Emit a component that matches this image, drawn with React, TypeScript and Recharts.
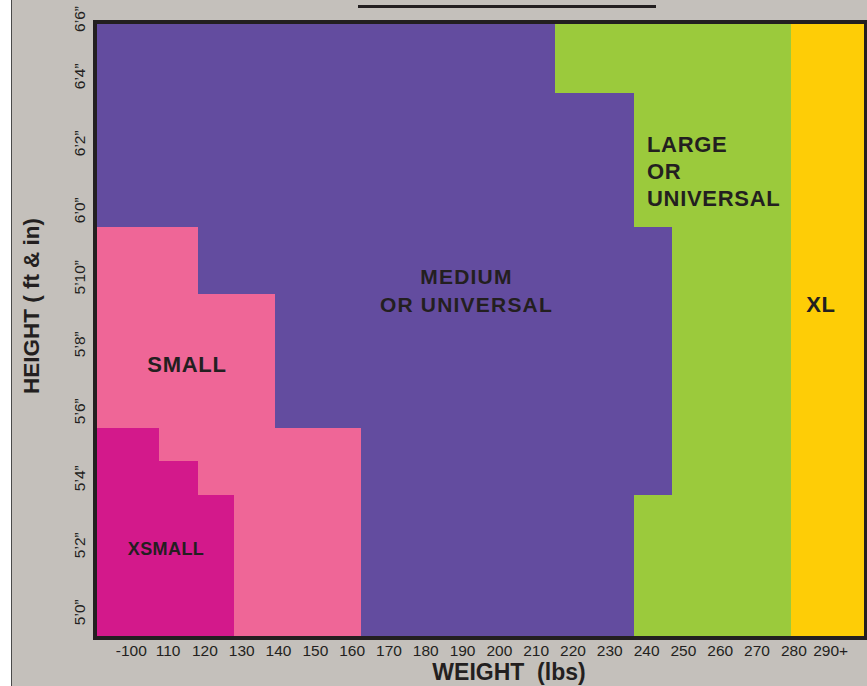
import React from 'react';
import { ComposedChart, XAxis, YAxis, ReferenceArea, Scatter, Label } from 'recharts';

// ---------- axis data ----------
const weightTicks = [100, 110, 120, 130, 140, 150, 160, 170, 180, 190, 200, 210, 220, 230, 240, 250, 260, 270, 280, 290];
const weightTickLabels = ['-100', '110', '120', '130', '140', '150', '160', '170', '180', '190', '200', '210', '220', '230', '240', '250', '260', '270', '280', '290+'];
const heightTicks = [60, 62, 64, 66, 68, 70, 72, 74, 76, 78]; // inches
const heightTickLabels = ['5\u20190\u201D', '5\u20192\u201D', '5\u20194\u201D', '5\u20196\u201D', '5\u20198\u201D', '5\u201910\u201D', '6\u20190\u201D', '6\u20192\u201D', '6\u20194\u201D', '6\u20196\u201D'];

const W_MIN = 90.14;
const W_MAX = 299.6;
const H_MIN = 59.23;
const H_MAX = 77.62;

// ---------- size zones (weight lbs x height inches) ----------
const xsmallZone = [
  { x1: W_MIN, x2: 107.5, y1: H_MIN, y2: 65.5 },
  { x1: 107.5, x2: 118, y1: H_MIN, y2: 64.5 },
  { x1: 118, x2: 128, y1: H_MIN, y2: 63.5 },
];
const smallZone = [
  { x1: W_MIN, x2: 107.5, y1: 65.5, y2: 71.5 },
  { x1: 107.5, x2: 118, y1: 64.5, y2: 71.5 },
  { x1: 118, x2: 128, y1: 63.5, y2: 69.5 },
  { x1: 128, x2: 139, y1: H_MIN, y2: 69.5 },
  { x1: 139, x2: 162.5, y1: H_MIN, y2: 65.5 },
];
const mediumZone = [
  { x1: W_MIN, x2: 118, y1: 71.5, y2: H_MAX },
  { x1: 118, x2: 139, y1: 69.5, y2: H_MAX },
  { x1: 139, x2: 162.5, y1: 65.5, y2: H_MAX },
  { x1: 162.5, x2: 215, y1: H_MIN, y2: H_MAX },
  { x1: 215, x2: 236.5, y1: H_MIN, y2: 75.5 },
  { x1: 236.5, x2: 247, y1: 63.5, y2: 71.5 },
];
const largeZone = [
  { x1: 215, x2: 236.5, y1: 75.5, y2: H_MAX },
  { x1: 236.5, x2: 247, y1: H_MIN, y2: 63.5 },
  { x1: 236.5, x2: 247, y1: 71.5, y2: H_MAX },
  { x1: 247, x2: 279.2, y1: H_MIN, y2: H_MAX },
];
const xlZone = [
  { x1: 279.2, x2: W_MAX, y1: H_MIN, y2: H_MAX },
];

// ---------- zone captions (anchor in weight/height units) ----------
const zoneLabels = [
  { w: 191.06, h: 69.62, lines: ['MEDIUM', 'OR UNIVERSAL'], kind: 'center' },
  { w: 240.1, h: 73.17, lines: ['LARGE', 'OR', 'UNIVERSAL'], kind: 'left' },
  { w: 115.13, h: 67.41, lines: ['SMALL'], kind: 'center' },
  { w: 287.37, h: 69.19, lines: ['XL'], kind: 'center' },
  { w: 109.43, h: 61.9, lines: ['XSMALL'], kind: 'small' },
];

const FONT = '"Liberation Sans", Arial, Helvetica, sans-serif';
const INK = '#231f20';
const COLORS = {
  xsmall: '#d3198b',
  small: '#ef6697',
  medium: '#634c9f',
  large: '#9bca3c',
  xl: '#fecd06',
};

const XTick = (props: any) => {
  const { x, y, payload } = props;
  const i = weightTicks.indexOf(payload.value);
  return (
    <text x={x} y={y} dy={17.5} textAnchor="middle" fontSize={15.5} fill={INK} fontFamily={FONT}>
      {weightTickLabels[i]}
    </text>
  );
};

const YTick = (props: any) => {
  const { x, y, payload } = props;
  const i = heightTicks.indexOf(payload.value);
  const cx = x - 16;
  const cy = Math.max(y, 19);
  return (
    <text
      x={cx}
      y={cy}
      dy="0.36em"
      textAnchor="middle"
      fontSize={15.5}
      fill={INK}
      fontFamily={FONT}
      transform={`rotate(-90, ${cx}, ${cy})`}
    >
      {heightTickLabels[i]}
    </text>
  );
};

const ZoneLabelShape = (props: any) => {
  const { cx, cy } = props;
  const p = props.payload || props;
  const lines: string[] = p.lines || [];
  let fontSize = 22;
  let lineH = 27;
  let anchor: 'middle' | 'start' = 'middle';
  let spacing = 0.7;
  if (p.kind === 'left') {
    anchor = 'start';
    lineH = 26.7;
  } else if (p.kind === 'small') {
    fontSize = 18;
    spacing = 0.4;
  }
  if (lines.length === 2) {
    fontSize = 21;
    lineH = 28;
    spacing = 1.2;
  }
  return (
    <text
      x={cx}
      y={cy}
      textAnchor={anchor}
      fontSize={fontSize}
      fontWeight="bold"
      fill={INK}
      fontFamily={FONT}
      letterSpacing={spacing}
    >
      {lines.map((t, i) => (
        <tspan key={i} x={cx} y={cy + (i - (lines.length - 1) / 2) * lineH} dy="0.36em">
          {t}
        </tspan>
      ))}
    </text>
  );
};

const renderZone = (rects: any[], color: string, key: string) =>
  rects.map((r, i) => (
    <ReferenceArea
      key={`${key}-${i}`}
      x1={r.x1}
      x2={r.x2}
      y1={r.y1}
      y2={r.y2}
      fill={color}
      fillOpacity={1}
      stroke="none"
      shapeRendering="crispEdges"
      ifOverflow="visible"
    />
  ));

export default function App() {
  return (
    <div style={{ position: 'absolute', left: 0, top: 0, width: 867, height: 686, background: '#ffffff', overflow: 'hidden' }}>
      <div
        style={{
          position: 'absolute',
          left: 11,
          top: 0,
          width: 856,
          height: 686,
          background: '#c4c0bb',
          borderLeft: '1.5px solid #4a4a4a',
        }}
      />
      <div style={{ position: 'absolute', left: 358, top: 5, width: 298, height: 3, background: INK }} />
      <div style={{ position: 'absolute', left: 0, top: 0 }}>
        <ComposedChart width={867} height={686} margin={{ top: 22, right: 1, bottom: 18, left: 35 }}>
          <XAxis
            type="number"
            dataKey="w"
            domain={[W_MIN, W_MAX]}
            allowDataOverflow
            ticks={weightTicks}
            interval={0}
            tick={<XTick />}
            axisLine={false}
            tickLine={false}
            tickSize={0}
            tickMargin={0}
            height={30}
          >
            <Label
              content={() => (
                <text x={509} y={680} textAnchor="middle" fontSize={23} fontWeight="bold" fill={INK} fontFamily={FONT} style={{ whiteSpace: 'pre' }}>
                  {'WEIGHT  (lbs)'}
                </text>
              )}
            />
          </XAxis>
          <YAxis
            type="number"
            dataKey="h"
            domain={[H_MIN, H_MAX]}
            allowDataOverflow
            ticks={heightTicks}
            interval={0}
            tick={<YTick />}
            axisLine={false}
            tickLine={false}
            tickSize={0}
            tickMargin={0}
            width={60}
          >
            <Label
              content={() => (
                <text
                  x={31}
                  y={306}
                  dy="0.36em"
                  textAnchor="middle"
                  fontSize={22.5}
                  fontWeight="bold"
                  fill={INK}
                  fontFamily={FONT}
                  transform="rotate(-90, 31, 306)"
                >
                  HEIGHT ( ft &amp; in)
                </text>
              )}
            />
          </YAxis>
          {renderZone(mediumZone, COLORS.medium, 'm')}
          {renderZone(largeZone, COLORS.large, 'l')}
          {renderZone(xlZone, COLORS.xl, 'xl')}
          {renderZone(smallZone, COLORS.small, 's')}
          {renderZone(xsmallZone, COLORS.xsmall, 'xs')}
          <ReferenceArea
            x1={W_MIN}
            x2={W_MAX}
            y1={H_MIN}
            y2={H_MAX}
            fill="none"
            stroke={INK}
            strokeWidth={4}
            ifOverflow="visible"
          />
          <Scatter data={zoneLabels} dataKey="h" shape={ZoneLabelShape} isAnimationActive={false} />
        </ComposedChart>
      </div>
    </div>
  );
}
